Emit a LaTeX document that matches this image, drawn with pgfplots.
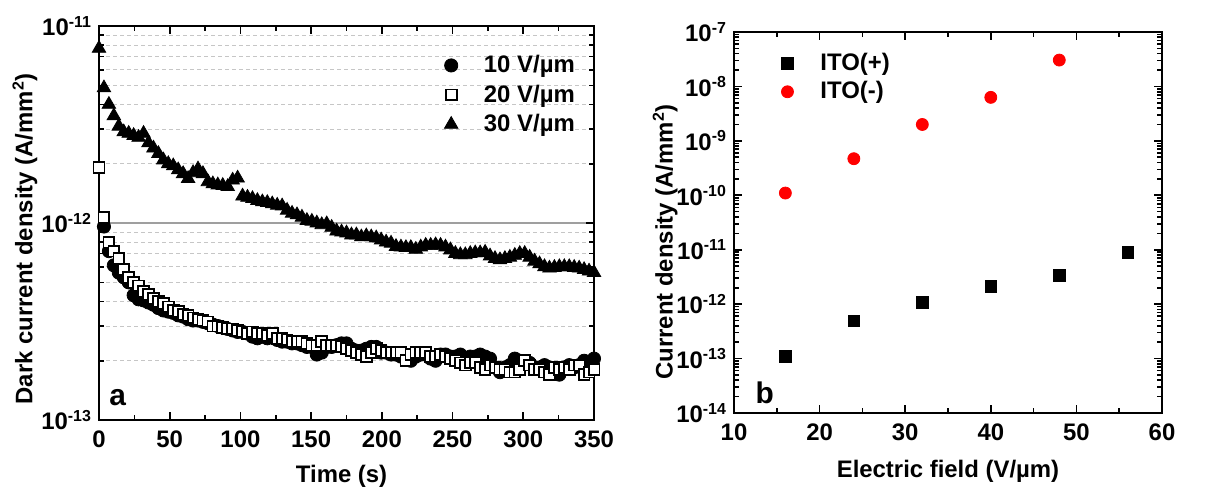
\documentclass[border=0pt]{standalone}
\usepackage{fontspec}
\setmainfont{Liberation Sans}
\usepackage{pgfplots}
\usepackage{pgfplotstable}
\pgfplotsset{compat=1.18}

% time (s), 10 V/um, 20 V/um, 30 V/um  (values in 1e-12 A/mm^2)
\pgfplotstableread{
t c s tr
0 nan 1.92 7.7
3.5 0.96 1.07 4.85
7 0.72 0.80 4.0
10.5 0.61 0.72 3.5
14 0.56 0.66 3.1
17.5 0.53 0.58 2.9
21 0.50 0.53 2.85
24.5 0.43 0.50 2.78
28 0.41 0.48 2.72
31.5 0.405 0.45 2.85
35 0.395 0.435 2.55
38.5 0.385 0.415 2.4
42 0.37 0.40 2.25
45.5 0.36 0.39 2.09
49 0.355 0.375 2.0
52.5 0.35 0.36 1.95
56 0.34 0.355 1.86
59.5 0.335 0.345 1.78
63 0.325 0.34 1.68
66.5 0.32 0.33 1.8
70 0.32 0.325 1.88
73.5 0.315 0.32 1.78
77 0.31 0.315 1.62
80.5 0.305 0.30 1.58
84 0.30 0.30 1.56
87.5 0.295 0.295 1.55
91 0.29 0.29 1.53
94.5 0.285 0.29 1.65
98 0.28 0.285 1.69
101.5 0.28 0.28 1.37
105 0.275 0.275 1.35
108.5 0.265 0.28 1.33
112 0.26 0.275 1.30
115.5 0.265 0.275 1.28
119 0.26 0.27 1.27
122.5 0.265 0.275 1.25
126 0.255 0.26 1.23
129.5 0.25 0.26 1.22
133 0.25 0.255 1.16
136.5 0.245 0.25 1.12
140 0.245 0.25 1.10
143.5 0.24 0.25 1.07
147 0.235 0.245 1.03
150.5 0.235 0.24 1.02
154 0.215 0.24 1.00
157.5 0.22 0.25 0.98
161 0.235 0.24 0.99
164.5 0.235 0.24 0.95
168 0.24 0.24 0.91
171.5 0.245 0.235 0.90
175 0.245 0.23 0.89
178.5 0.23 0.225 0.87
182 0.225 0.22 0.87
185.5 0.225 0.215 0.85
189 0.23 0.21 0.86
192.5 0.235 0.22 0.85
196 0.235 0.23 0.84
199.5 0.22 0.225 0.82
203 0.22 0.22 0.80
206.5 0.215 0.22 0.79
210 0.215 0.22 0.76
213.5 0.21 0.22 0.755
217 0.205 0.20 0.75
220.5 0.20 0.215 0.75
224 0.21 0.22 0.735
227.5 0.215 0.22 0.755
231 0.215 0.22 0.77
234.5 0.205 0.21 0.77
238 0.20 0.21 0.775
241.5 0.215 0.215 0.77
245 0.215 0.21 0.755
248.5 0.21 0.205 0.73
252 0.21 0.20 0.70
255.5 0.215 0.195 0.69
259 0.205 0.19 0.69
262.5 0.21 0.195 0.70
266 0.21 0.195 0.705
269.5 0.215 0.185 0.705
273 0.21 0.18 0.71
276.5 0.205 0.19 0.68
280 0.185 0.185 0.66
283.5 0.175 0.18 0.65
287 0.185 0.18 0.66
290.5 0.19 0.175 0.67
294 0.205 0.175 0.685
297.5 0.20 0.18 0.70
301 0.195 0.20 0.70
304.5 0.195 0.19 0.67
308 0.185 0.18 0.64
311.5 0.185 0.18 0.62
315 0.19 0.175 0.60
318.5 0.185 0.17 0.59
322 0.175 0.185 0.595
325.5 0.17 0.18 0.60
329 0.185 0.185 0.60
332.5 0.19 0.18 0.60
336 0.185 0.19 0.595
339.5 0.19 0.19 0.59
343 0.20 0.17 0.58
346.5 0.195 0.175 0.57
350 0.205 0.18 0.56
}\dataA

\pgfplotsset{
  common/.style={
    scale only axis,
    axis line style={line width=1.1bp},
    tick style={line width=0.8bp, black},
    major tick length=4bp, minor tick length=2.4bp,
    tick align=inside,
    ticklabel style={font=\bfseries\fontsize{12}{14}\selectfont},
    xticklabel style={yshift=-1.8bp},
    label style={font=\bfseries\fontsize{12}{14}\selectfont},
    /pgf/number format/assume math mode=true,
    legend cell align=left,
  }
}

\begin{document}
\begin{tikzpicture}
\useasboundingbox (0bp,0bp) rectangle (604bp,243.5bp);

\begin{axis}[common,
  at={(49.5bp,33.5bp)}, anchor=south west, width=247.5bp, height=197bp,
  xmin=0, xmax=350, xtick={0,50,...,350}, minor x tick num=1,
  ymode=log, ymin=1e-13, ymax=1e-11,
  ytick={1e-13,1e-12,1e-11},
  yticklabels={10\textsuperscript{-13},10\textsuperscript{-12},10\textsuperscript{-11}},
  ymajorgrids, yminorgrids,
  major grid style={gray!75, line width=0.9bp},
  minor grid style={gray!45, line width=0.5bp, dash pattern=on 2bp off 1.5bp},
  xlabel={Time (s)},
  ylabel={Dark current density (A/mm\textsuperscript{2})},
  xlabel style={at={(axis description cs:0.49,-0.144)}, anchor=center},
  ylabel style={at={(axis description cs:-0.1495,0.46)}, anchor=center},
  legend style={draw=none, fill=none, at={(axis description cs:0.685,0.947)}, anchor=north west,
    font=\bfseries\fontsize{12}{14}\selectfont, row sep=0.6bp,
    /tikz/every odd column/.append style={column sep=11bp}},
]
\addplot[only marks, mark=*, mark size=3.3bp, black] table[x=t, y expr=\thisrow{c}*1e-12]{\dataA};
\addplot[only marks, mark=square*, mark size=2.7bp, mark options={fill=white, draw=black, line width=0.9bp}] table[x=t, y expr=\thisrow{s}*1e-12]{\dataA};
\addplot[only marks, mark=triangle*, mark size=3.9bp, black] table[x=t, y expr=\thisrow{tr}*1e-12]{\dataA};
\legend{10 V/µm, 20 V/µm, 30 V/µm}
\node[font=\bfseries\fontsize{15}{18}\selectfont] at (axis description cs:0.038,0.058) {a};
\end{axis}

\begin{axis}[common,
  at={(367bp,37bp)}, anchor=south west, width=214bp, height=190.5bp,
  xmin=10, xmax=60, xtick={10,20,...,60}, minor x tick num=1,
  ymode=log, ymin=1e-14, ymax=1e-7,
  ytick={1e-14,1e-13,1e-12,1e-11,1e-10,1e-9,1e-8,1e-7},
  yticklabels={10\textsuperscript{-14},10\textsuperscript{-13},10\textsuperscript{-12},10\textsuperscript{-11},10\textsuperscript{-10},10\textsuperscript{-9},10\textsuperscript{-8},10\textsuperscript{-7}},
  xlabel={Electric field (V/µm)},
  ylabel={Current density (A/mm\textsuperscript{2})},
  xlabel style={at={(axis description cs:0.5,-0.154)}, anchor=center},
  ylabel style={at={(axis description cs:-0.161,0.449)}, anchor=center},
  legend style={draw=none, fill=none, at={(axis description cs:0.096,0.966)}, anchor=north west,
    font=\bfseries\fontsize{12}{14}\selectfont, row sep=0bp,
    /tikz/every odd column/.append style={column sep=11.5bp}},
]
\addplot[only marks, mark=square*, mark size=2.9bp, black] coordinates {
  (16,1.1e-13) (24,4.9e-13) (32,1.07e-12) (40,2.1e-12) (48,3.4e-12) (56,8.9e-12)};
\addplot[only marks, mark=*, mark size=3.0bp, red, mark options={fill=red, draw=red}] coordinates {
  (16,1.1e-10) (24,4.7e-10) (32,2.0e-9) (40,6.3e-9) (48,3.05e-8)};
\legend{ITO(+), ITO(-)}
\node[font=\bfseries\fontsize{15}{18}\selectfont] at (axis description cs:0.072,0.052) {b};
\end{axis}
\end{tikzpicture}
\end{document}
